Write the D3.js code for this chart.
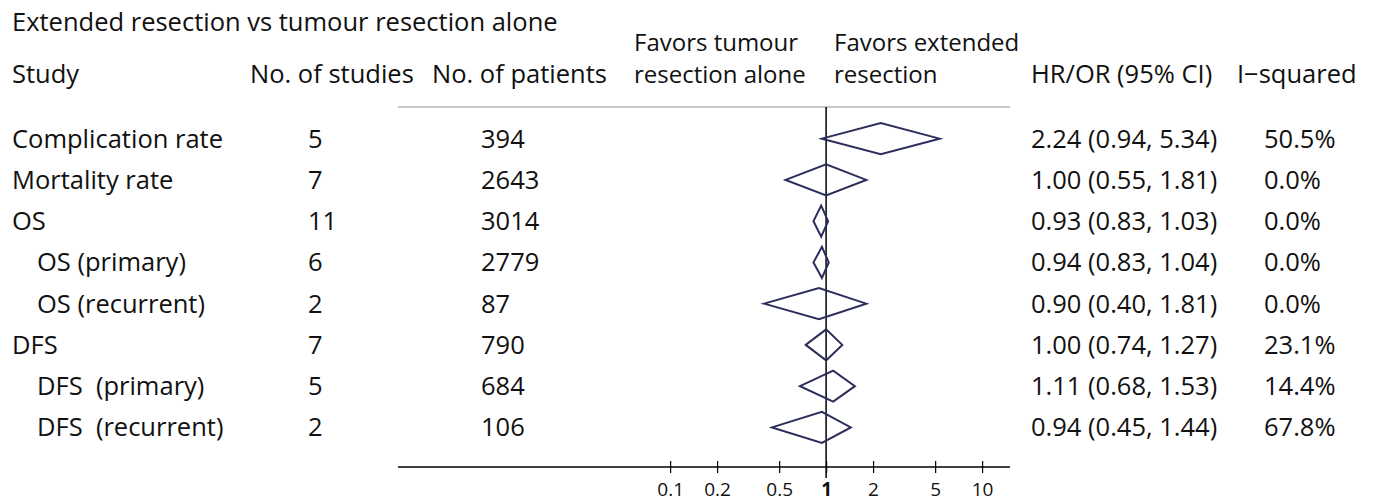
<!DOCTYPE html>
<html>
<head>
<meta charset="utf-8">
<title>Forest plot</title>
<script src="https://d3js.org/d3.v7.min.js"></script>
<style>
  body { margin: 0; background: #fff; }
  text { font-family: "Open Sans", "Noto Sans", sans-serif; fill: #111; white-space: pre; }
</style>
</head>
<body>
<script>
var studies = ["Complication rate", "Mortality rate", "OS", "OS (primary)", "OS (recurrent)", "DFS", "DFS  (primary)", "DFS  (recurrent)"];
var indented = [false, false, false, true, true, false, true, true];
var nStudies = [5, 7, 11, 6, 2, 7, 5, 2];
var nPatients = [394, 2643, 3014, 2779, 87, 790, 684, 106];
var est = [2.24, 1.00, 0.93, 0.94, 0.90, 1.00, 1.11, 0.94];
var lower = [0.94, 0.55, 0.83, 0.83, 0.40, 0.74, 0.68, 0.45];
var upper = [5.34, 1.81, 1.03, 1.04, 1.81, 1.27, 1.53, 1.44];
var iSquared = ["50.5%", "0.0%", "0.0%", "0.0%", "0.0%", "23.1%", "14.4%", "67.8%"];
var tickValues = [0.1, 0.2, 0.5, 1, 2, 5, 10];

var width = 1374, height = 501;
var fs = 25.5;

var svg = d3.select("body").append("svg")
    .attr("width", width)
    .attr("height", height);

var x = d3.scaleLog().domain([0.0018, 15.1]).range([398, 1010]);
var y = d3.scaleBand().domain(d3.range(studies.length)).range([118, 448]);

var rows = studies.map(function(s, i) {
  return { study: s, indent: indented[i], n: nStudies[i], p: nPatients[i],
           est: est[i], lo: lower[i], hi: upper[i], i2: iSquared[i] };
});

// headers
svg.append("text").attr("x", 12).attr("y", 31).style("font-size", fs + "px")
   .text("Extended resection vs tumour resection alone");
var hy = 83;
var headers = [
  [12, hy, "Study", fs], [250, hy, "No. of studies", fs], [432, hy, "No. of patients", fs],
  [634, 51, "Favors tumour", 24], [634, hy, "resection alone", 24],
  [834, 51, "Favors extended", 24], [834, hy, "resection", 24],
  [1031, hy, "HR/OR (95% CI)", fs], [1237, hy, "I\u2212squared", fs]
];
svg.selectAll("text.hdr").data(headers).enter().append("text")
   .attr("class", "hdr")
   .attr("x", function(d) { return d[0]; })
   .attr("y", function(d) { return d[1]; })
   .style("font-size", function(d) { return d[3] + "px"; })
   .text(function(d) { return d[2]; });

svg.append("line").attr("x1", 398).attr("x2", 1010).attr("y1", 107).attr("y2", 107)
   .attr("stroke", "#c8c8c8").attr("stroke-width", 2);

// reference line at 1
svg.append("line").attr("x1", x(1)).attr("x2", x(1)).attr("y1", 107).attr("y2", 478)
   .attr("stroke", "#000").attr("stroke-width", 1.5);

var row = svg.selectAll("g.row").data(rows).enter().append("g")
   .attr("class", "row")
   .attr("transform", function(d, i) { return "translate(0," + (y(i) + y.bandwidth() / 2) + ")"; });

row.append("text").attr("x", function(d) { return d.indent ? 37 : 12; }).attr("dy", "0.35em")
   .style("font-size", fs + "px").text(function(d) { return d.study; });
row.append("text").attr("x", 308).attr("dy", "0.35em")
   .style("font-size", fs + "px").text(function(d) { return d.n; });
row.append("text").attr("x", 481).attr("dy", "0.35em")
   .style("font-size", fs + "px").text(function(d) { return d.p; });
row.append("text").attr("x", 1031).attr("dy", "0.35em")
   .style("font-size", fs + "px")
   .text(function(d) { return d.est.toFixed(2) + " (" + d.lo.toFixed(2) + ", " + d.hi.toFixed(2) + ")"; });
row.append("text").attr("x", 1264).attr("dy", "0.35em")
   .style("font-size", fs + "px").text(function(d) { return d.i2; });

var h = 15.5;
row.append("path")
   .attr("d", function(d) {
     return "M" + x(d.lo) + ",0L" + x(d.est) + "," + (-h) + "L" + x(d.hi) + ",0L" + x(d.est) + "," + h + "Z";
   })
   .attr("fill", "none")
   .attr("stroke", "#2b2d5b")
   .attr("stroke-width", 2);

// axis
var axis = svg.append("g").attr("transform", "translate(0,467)")
   .call(d3.axisBottom(x).tickValues(tickValues).tickSize(12)
         .tickFormat(function(d) { return d; }));
axis.select(".domain").attr("stroke", "#000").attr("stroke-width", 1.5)
    .attr("d", "M398,0H1010");
axis.selectAll(".tick line").attr("y1", -6).attr("y2", 6).attr("stroke-width", 1.2);
axis.selectAll(".tick text").attr("y", 16)
    .style("font-size", "19px").style("font-family", "'Open Sans', sans-serif")
    .style("font-weight", function(d) { return d === 1 ? "bold" : "normal"; })
    .attr("fill", "#111");
</script>
</body>
</html>
